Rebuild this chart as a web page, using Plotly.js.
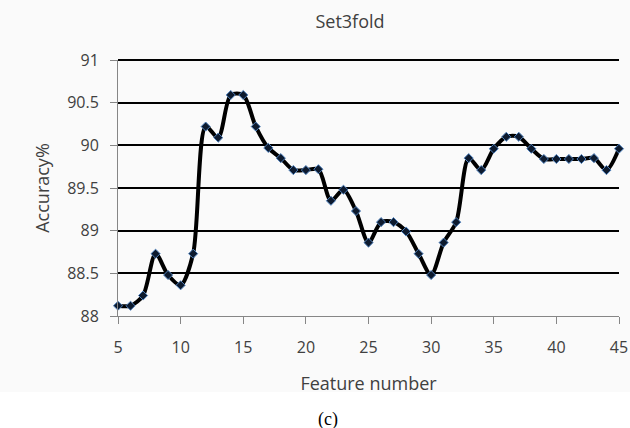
<!DOCTYPE html>
<html>
<head>
<meta charset="utf-8">
<script src="https://cdn.plot.ly/plotly-3.0.1.min.js"></script>
<style>
  html, body { margin: 0; padding: 0; background: #ffffff; }
  #chart { width: 630px; height: 428px; }
</style>
</head>
<body>
<div id="chart"></div>
<script>
const featureNumbers = [5, 6, 7, 8, 9, 10, 11, 12, 13, 14, 15, 16, 17, 18, 19, 20, 21, 22, 23, 24, 25,
  26, 27, 28, 29, 30, 31, 32, 33, 34, 35, 36, 37, 38, 39, 40, 41, 42, 43, 44, 45];
const accuracy = [88.12, 88.12, 88.24, 88.73, 88.48, 88.36, 88.73, 90.22, 90.09, 90.59, 90.59,
  90.22, 89.97, 89.85, 89.71, 89.71, 89.72, 89.35, 89.48, 89.23, 88.86,
  89.10, 89.10, 88.99, 88.73, 88.48, 88.86, 89.10, 89.85, 89.71, 89.96,
  90.10, 90.10, 89.96, 89.84, 89.84, 89.84, 89.84, 89.85, 89.71, 89.96];
const xTicks = [5, 10, 15, 20, 25, 30, 35, 40, 45];
const yTicks = [88, 88.5, 89, 89.5, 90, 90.5, 91];
const yTickLabels = ['88', '88.5', '89', '89.5', '90', '90.5', '91'];

const textColor = '#404040';
const fontFam = '"Open Sans", sans-serif';

const trace = {
  x: featureNumbers,
  y: accuracy,
  type: 'scatter',
  mode: 'lines+markers',
  line: { color: '#000000', width: 4, shape: 'spline', smoothing: 0.8 },
  marker: { symbol: 'diamond', size: 7, color: '#0d1a2e', line: { color: '#4f81bd', width: 1 } },
  hoverinfo: 'x+y',
  cliponaxis: false
};

const layout = {
  width: 630,
  height: 428,
  margin: { l: 118, r: 11, t: 60, b: 112 },
  paper_bgcolor: '#fafafa',
  plot_bgcolor: '#fafafa',
  showlegend: false,
  font: { family: fontFam, color: textColor, size: 16 },
  title: {
    text: 'Set3fold',
    font: { family: fontFam, size: 18, color: textColor },
    xref: 'container', yref: 'container',
    x: 350 / 630, y: 1 - 22 / 428,
    xanchor: 'center', yanchor: 'middle'
  },
  xaxis: {
    range: [5, 45],
    tickmode: 'array',
    tickvals: xTicks,
    ticktext: xTicks.map(String),
    ticks: 'outside', ticklen: 7, tickwidth: 1, tickcolor: '#868686',
    showline: true, linecolor: '#868686', linewidth: 1,
    showgrid: false, zeroline: false,
    ticklabelstandoff: 10,
    tickfont: { family: fontFam, size: 16, color: textColor },
    title: { text: 'Feature number', font: { family: fontFam, size: 18, color: textColor }, standoff: 20 },
    fixedrange: true
  },
  yaxis: {
    range: [88, 91],
    tickmode: 'array',
    tickvals: yTicks,
    ticktext: yTickLabels,
    ticks: 'outside', ticklen: 7, tickwidth: 1, tickcolor: '#868686',
    showline: true, linecolor: '#868686', linewidth: 1,
    showgrid: true, gridcolor: '#000000', gridwidth: 2,
    zeroline: false,
    ticklabelstandoff: 8,
    tickfont: { family: fontFam, size: 16, color: textColor },
    title: { text: 'Accuracy%', font: { family: fontFam, size: 18, color: textColor }, standoff: 12 },
    fixedrange: true
  },
  shapes: [
    {
      type: 'rect', xref: 'paper', yref: 'paper', layer: 'below',
      x0: -0.3, x1: 1.1, y0: (316 - 392) / 256, y1: (316 - 440) / 256,
      fillcolor: '#ffffff', line: { width: 0 }
    },
    {
      // top gridline (frame edge at the top of the y range)
      type: 'line', xref: 'paper', yref: 'paper', layer: 'above',
      x0: 0, x1: 1, y0: 1, y1: 1,
      line: { color: '#000000', width: 2 }
    }
  ],
  annotations: [
    {
      text: '(c)', xref: 'paper', yref: 'paper',
      x: (328 - 118) / 501, y: (316 - 419) / 256,
      xanchor: 'center', yanchor: 'middle', showarrow: false,
      font: { family: '"Liberation Serif", "Times New Roman", serif', size: 18, color: '#000000' }
    }
  ]
};

Plotly.newPlot('chart', [trace], layout, { displayModeBar: false, staticPlot: true });
</script>
</body>
</html>
